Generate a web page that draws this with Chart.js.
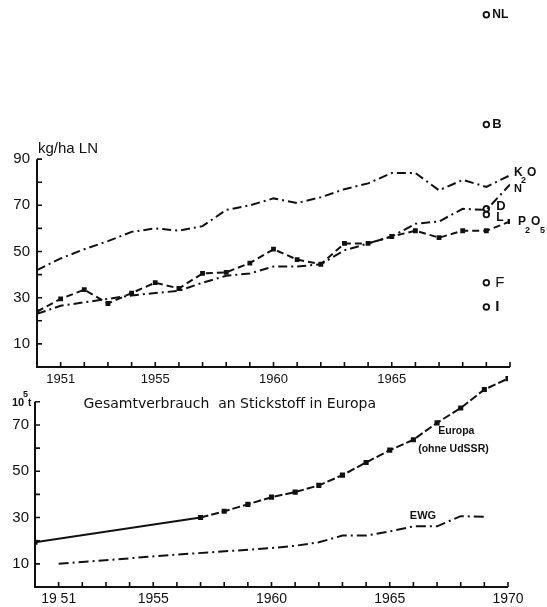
<!DOCTYPE html>
<html>
<head>
<meta charset="utf-8">
<script src="https://cdn.jsdelivr.net/npm/chart.js@4.4.1/dist/chart.umd.min.js"></script>
<style>
  body { margin: 0; background: #fff; }
  #wrap { position: relative; width: 547px; height: 607px; }
  canvas { position: absolute; left: 0; }
  #top { top: 0; }
  #bottom { top: 360px; }
</style>
</head>
<body>
<div id="wrap">
  <canvas id="top" width="547" height="392"></canvas>
  <canvas id="bottom" width="547" height="247"></canvas>
</div>
<script>
// --- top panel: kg/ha LN, 1950-1970 ---
const years = [1950, 1951, 1952, 1953, 1954, 1955, 1956, 1957, 1958, 1959, 1960,
               1961, 1962, 1963, 1964, 1965, 1966, 1967, 1968, 1969, 1970];
const k2o  = [42, 47, 51, 54.5, 58.5, 60, 59, 61, 68, 70, 73, 71, 73.5, 77, 79.5, 84, 84, 76.5, 81, 78, 83];
const n    = [23, 26.5, 28, 29.5, 31, 32, 33, 36.5, 39.5, 40.5, 43.5, 43.5, 44.5, 50.5, 53.5, 56.5, 62, 63, 68.5, 68, 79];
const p2o5 = [24, 29.5, 33.5, 27.5, 32, 36.5, 34, 40.5, 41, 45, 51, 46.5, 44.5, 53.5, 53.5, 56.5, 59, 56, 59, 59, 63];

// single countries, 1969
const countries = ['NL', 'B', 'D', 'L', 'F', 'I'];
const countryYear = 1969;
const countryValues = [152.5, 105, 68.5, 66, 36.5, 26];

const topYearLabels = [1951, 1955, 1960, 1965];
const topValueLabels = [10, 30, 50, 70, 90];

// --- bottom panel: 10^5 t nitrogen ---
const europaYears = [1950, 1957, 1958, 1959, 1960, 1961, 1962, 1963, 1964, 1965, 1966, 1967, 1968, 1969, 1970];
const europa      = [19.3, 30, 32.7, 35.7, 38.8, 41, 43.9, 48.3, 53.8, 59.1, 63.6, 70.9, 77.3, 85.3, 90];
const ewgYears = [1951, 1956, 1960, 1961, 1962, 1963, 1964, 1965, 1966, 1967, 1968, 1969];
const ewg      = [10, 14, 16.8, 17.8, 19.3, 22.2, 22.2, 24, 26.2, 26.2, 30.6, 30.3];

const bottomYearLabels = { 1951: '19 51', 1955: '1955', 1960: '1960', 1965: '1965', 1970: '1970' };
const bottomValueLabels = [10, 30, 50, 70];

const INK = '#111';
const FONT = '"Liberation Sans", Arial, sans-serif';
const WIDE = '"DejaVu Sans", sans-serif';
const dashDot = [9, 4, 2, 4];

function pts(xs, ys) {
  return xs.map((x, i) => ({ x: x, y: ys[i] }));
}

// keep the plot area exactly where the padding puts it
function fixY(width) {
  return s => { s.width = width; s.paddingTop = 0; s.paddingBottom = 0; };
}
function fixX(height) {
  return s => { s.height = height; s.paddingLeft = 0; s.paddingRight = 0; };
}

// axis lines with inward ticks, drawn through the scales
const axesPlugin = {
  id: 'axes',
  afterDraw(chart, args, o) {
    const { ctx } = chart;
    const xs = chart.scales.x, ys = chart.scales.y;
    const x0 = xs.getPixelForValue(o.xMin), x1 = xs.getPixelForValue(o.xMax);
    const y0 = ys.getPixelForValue(0), y1 = ys.getPixelForValue(o.yTop);
    ctx.save();
    ctx.strokeStyle = INK;
    ctx.lineWidth = 2;
    ctx.beginPath();
    ctx.moveTo(x0, y1);
    ctx.lineTo(x0, y0);
    ctx.lineTo(x1, y0);
    ctx.stroke();
    ctx.lineWidth = 1.6;
    ctx.beginPath();
    for (let v = o.xMin + 1; v <= o.xMax; v++) {
      const px = xs.getPixelForValue(v);
      ctx.moveTo(px, y0);
      ctx.lineTo(px, y0 - 5);
    }
    for (let v = 10; v <= o.yTop; v += 10) {
      const py = ys.getPixelForValue(v);
      ctx.moveTo(x0, py);
      ctx.lineTo(x0 + 5, py);
    }
    ctx.stroke();
    ctx.restore();
  }
};

function text(ctx, s, x, y, size, align, weight, family) {
  ctx.font = (weight || 'normal') + ' ' + size + 'px ' + (family || FONT);
  ctx.textAlign = align || 'left';
  ctx.textBaseline = 'middle';
  ctx.fillText(s, x, y);
}

const topLabels = {
  id: 'topLabels',
  afterDraw(chart) {
    const { ctx } = chart;
    const xs = chart.scales.x, ys = chart.scales.y;
    ctx.save();
    ctx.fillStyle = INK;
    text(ctx, 'kg/ha LN', xs.getPixelForValue(1950) + 1, ys.getPixelForValue(90) - 10, 15);
    const cx = xs.getPixelForValue(countryYear);
    text(ctx, 'NL', cx + 6, ys.getPixelForValue(152.5), 12, 'left', 'bold');
    text(ctx, 'B', cx + 6, ys.getPixelForValue(105), 13, 'left', 'bold');
    text(ctx, 'D', cx + 10, ys.getPixelForValue(69.5), 13, 'left', 'bold');
    text(ctx, 'L', cx + 10, ys.getPixelForValue(64.5), 12, 'left', 'bold');
    text(ctx, 'F', cx + 9, ys.getPixelForValue(36.5), 15);
    text(ctx, 'I', cx + 9, ys.getPixelForValue(26), 15, 'left', 'bold');
    const ex = xs.getPixelForValue(1970);
    let y = ys.getPixelForValue(84);
    text(ctx, 'K', ex + 4, y, 12, 'left', 'bold');
    text(ctx, '2', ex + 11, y + 8, 9, 'left', 'bold');
    text(ctx, 'O', ex + 17, y, 12, 'left', 'bold');
    text(ctx, 'N', ex + 4, ys.getPixelForValue(77), 11, 'left', 'bold');
    y = ys.getPixelForValue(63);
    text(ctx, 'P', ex + 8, y, 12, 'left', 'bold');
    text(ctx, '2', ex + 15, y + 9, 9, 'left', 'bold');
    text(ctx, 'O', ex + 21, y, 12, 'left', 'bold');
    text(ctx, '5', ex + 30, y + 9, 9, 'left', 'bold');
    ctx.restore();
  }
};

const bottomLabels = {
  id: 'bottomLabels',
  afterDraw(chart) {
    const { ctx } = chart;
    const xs = chart.scales.x, ys = chart.scales.y;
    ctx.save();
    ctx.fillStyle = INK;
    const y80 = ys.getPixelForValue(80);
    text(ctx, '10', 12, y80 + 1, 11, 'left', 'bold');
    text(ctx, '5', 23, y80 - 7, 9, 'left', 'bold');
    text(ctx, 't', 28, y80 + 1, 10, 'left', 'bold');
    text(ctx, 'Gesamtverbrauch  an Stickstoff in Europa', xs.getPixelForValue(1952.05), ys.getPixelForValue(78.8), 14, 'left', 'normal', WIDE);
    text(ctx, 'Europa', xs.getPixelForValue(1967.05), ys.getPixelForValue(67.5), 10.5, 'left', 'bold');
    text(ctx, '(ohne UdSSR)', xs.getPixelForValue(1966.2), ys.getPixelForValue(59.5), 10.5, 'left', 'bold');
    text(ctx, 'EWG', xs.getPixelForValue(1965.85), ys.getPixelForValue(30.5), 11, 'left', 'bold');
    ctx.restore();
  }
};

Chart.defaults.font.family = FONT;
Chart.defaults.color = INK;

new Chart(document.getElementById('top'), {
  type: 'line',
  data: {
    datasets: [
      { label: 'K2O', data: pts(years, k2o), borderColor: INK, borderWidth: 2, borderDash: dashDot, pointRadius: 0, tension: 0 },
      { label: 'N', data: pts(years, n), borderColor: INK, borderWidth: 2, borderDash: dashDot, pointRadius: 0, tension: 0 },
      { label: 'P2O5', data: pts(years, p2o5), borderColor: INK, borderWidth: 2, borderDash: [7, 4],
        pointStyle: 'rect', pointRadius: 2, pointBackgroundColor: INK, pointBorderColor: INK, tension: 0 },
      { label: 'Länder', data: countryValues.map(v => ({ x: countryYear, y: v })), showLine: false,
        pointStyle: 'circle', pointRadius: 2.8, pointBorderWidth: 1.8, pointBorderColor: INK, pointBackgroundColor: '#fff' }
    ]
  },
  options: {
    responsive: false,
    animation: false,
    devicePixelRatio: 1,
    layout: { padding: { top: 9, right: 37, left: 0, bottom: 0 } },
    plugins: { legend: { display: false }, tooltip: { enabled: false },
      axes: { xMin: 1950, xMax: 1970, yTop: 90 } },
    scales: {
      x: {
        type: 'linear', min: 1950, max: 1970,
        grid: { display: false, drawTicks: false }, border: { display: false },
        ticks: { stepSize: 1, autoSkip: false, maxRotation: 0, padding: 5, font: { size: 13 },
          callback: v => topYearLabels.includes(v) ? String(v) : '' },
        afterFit: fixX(25)
      },
      y: {
        min: 0, max: 155,
        grid: { display: false, drawTicks: false }, border: { display: false },
        ticks: { stepSize: 10, padding: 7, font: { size: 15 },
          callback: v => topValueLabels.includes(v) ? String(v) : '' },
        afterFit: fixY(37)
      }
    }
  },
  plugins: [axesPlugin, topLabels]
});

new Chart(document.getElementById('bottom'), {
  type: 'line',
  data: {
    datasets: [
      { label: 'Europa (ohne UdSSR)', data: pts(europaYears, europa), borderColor: INK, borderWidth: 2,
        segment: { borderDash: c => c.p0.parsed.x < 1957 ? [] : [8, 3] },
        pointStyle: 'rect', pointRadius: 2.2, pointBackgroundColor: INK, pointBorderColor: INK, tension: 0 },
      { label: 'EWG', data: pts(ewgYears, ewg), borderColor: INK, borderWidth: 2, borderDash: [10, 4, 2, 4],
        pointRadius: 0, tension: 0 }
    ]
  },
  options: {
    responsive: false,
    animation: false,
    devicePixelRatio: 1,
    layout: { padding: { top: 14, right: 39, left: 0, bottom: 0 } },
    plugins: { legend: { display: false }, tooltip: { enabled: false },
      axes: { xMin: 1950, xMax: 1970, yTop: 80 } },
    scales: {
      x: {
        type: 'linear', min: 1950, max: 1970,
        grid: { display: false, drawTicks: false }, border: { display: false },
        ticks: { stepSize: 1, autoSkip: false, maxRotation: 0, padding: 4, font: { size: 14 },
          callback: v => bottomYearLabels[v] || '' },
        afterFit: fixX(20)
      },
      y: {
        min: 0, max: 92,
        grid: { display: false, drawTicks: false }, border: { display: false },
        ticks: { stepSize: 10, padding: 6, font: { size: 15 },
          callback: v => bottomValueLabels.includes(v) ? String(v) : '' },
        afterFit: fixY(35)
      }
    }
  },
  plugins: [axesPlugin, bottomLabels]
});
</script>
</body>
</html>
